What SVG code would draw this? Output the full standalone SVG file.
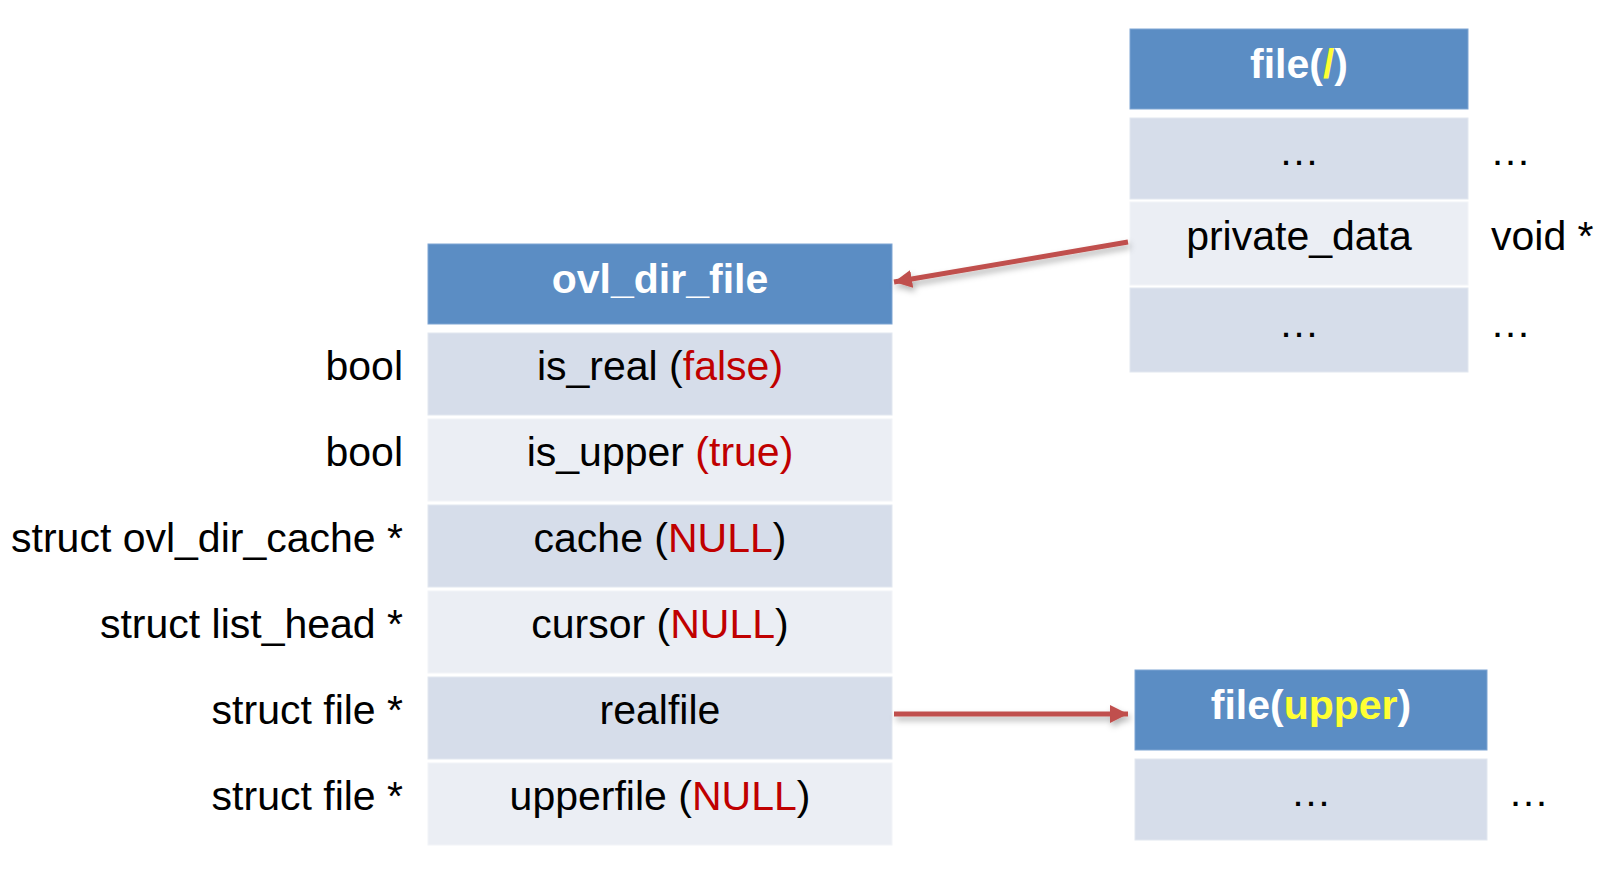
<svg xmlns="http://www.w3.org/2000/svg" width="1614" height="872" viewBox="0 0 1614 872">
  <style>
    text { font-family: "Liberation Sans", Arial, sans-serif; font-size: 41px; fill: #000; }
    .hdr { fill: #5B8DC4; stroke: #7FA5D3; stroke-width: 1; }
    .dk { fill: #D6DDEA; stroke: #E2E7F0; stroke-width: 1; }
    .lt { fill: #EBEEF4; stroke: #F2F4F8; stroke-width: 1; }
    .ht { font-weight: bold; fill: #FFFFFF; text-anchor: middle; }
    .y { fill: #FFFF33; }
    .r { fill: #C00000; }
    .c { text-anchor: middle; }
    .t { text-anchor: end; }
    .conn { fill: none; stroke: #C0504D; stroke-width: 5; }
  </style>
  <defs>
    <marker id="ah" markerUnits="userSpaceOnUse" markerWidth="20" markerHeight="20" refX="18" refY="9" orient="auto">
      <path d="M0,0 L18,9 L0,18 Z" fill="#C0504D"/>
    </marker>
    <filter id="sh" x="-10%" y="-50%" width="120%" height="300%">
      <feDropShadow dx="2" dy="4" stdDeviation="3" flood-color="#000" flood-opacity="0.3"/>
    </filter>
  </defs>
  <rect width="1614" height="872" fill="#FFFFFF"/>

  <g id="ovl_dir_file">
    <rect class="hdr" x="428" y="244" width="464" height="80"/>
    <text class="ht" x="660" y="293">ovl_dir_file</text>
    <rect class="dk" x="428" y="333" width="464" height="82"/>
    <rect class="lt" x="428" y="419" width="464" height="82"/>
    <rect class="dk" x="428" y="505" width="464" height="82"/>
    <rect class="lt" x="428" y="591" width="464" height="82"/>
    <rect class="dk" x="428" y="677" width="464" height="82"/>
    <rect class="lt" x="428" y="763" width="464" height="82"/>
    <text class="c" x="660" y="380">is_real (<tspan class="r">false)</tspan></text>
    <text class="c" x="660" y="466">is_upper <tspan class="r">(true)</tspan></text>
    <text class="c" x="660" y="552">cache (<tspan class="r">NULL</tspan>)</text>
    <text class="c" x="660" y="638">cursor (<tspan class="r">NULL</tspan>)</text>
    <text class="c" x="660" y="724">realfile</text>
    <text class="c" x="660" y="810">upperfile (<tspan class="r">NULL</tspan>)</text>
    <text class="t" x="403" y="380">bool</text>
    <text class="t" x="403" y="466">bool</text>
    <text class="t" x="403" y="552">struct ovl_dir_cache *</text>
    <text class="t" x="403" y="638">struct list_head *</text>
    <text class="t" x="403" y="724">struct file *</text>
    <text class="t" x="403" y="810">struct file *</text>
  </g>

  <g id="file_root">
    <rect class="hdr" x="1130" y="29" width="338" height="80"/>
    <text class="ht" x="1299" y="78">file(<tspan class="y">/</tspan>)</text>
    <rect class="dk" x="1130" y="118" width="338" height="81"/>
    <rect class="lt" x="1130" y="202" width="338" height="83"/>
    <rect class="dk" x="1130" y="288" width="338" height="84"/>
    <text class="c" x="1299" y="165">…</text>
    <text class="c" x="1299" y="250">private_data</text>
    <text class="c" x="1299" y="337">…</text>
    <text x="1490" y="165">…</text>
    <text x="1491" y="250">void *</text>
    <text x="1490" y="337">…</text>
  </g>

  <g id="file_upper">
    <rect class="hdr" x="1135" y="670" width="352" height="80"/>
    <text class="ht" x="1311" y="719">file(<tspan class="y">upper</tspan>)</text>
    <rect class="dk" x="1135" y="759" width="352" height="81"/>
    <text class="c" x="1311" y="806">…</text>
    <text x="1508" y="806">…</text>
  </g>

  <g id="connectors" filter="url(#sh)">
    <path class="conn" d="M1128,242 L894,282" marker-end="url(#ah)"/>
    <path class="conn" d="M894,714 L1128,714" marker-end="url(#ah)"/>
  </g>
</svg>
